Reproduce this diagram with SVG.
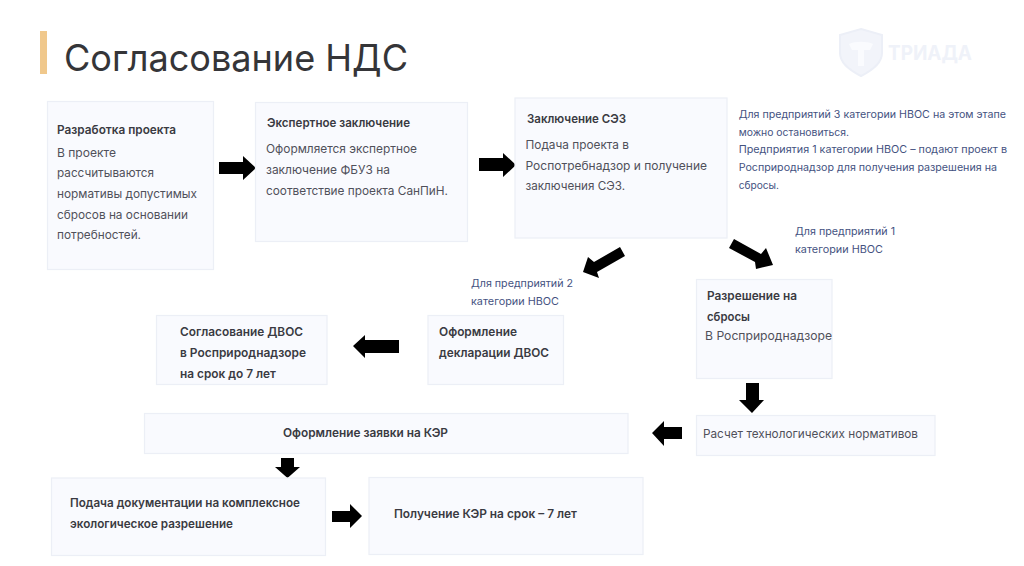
<svg xmlns="http://www.w3.org/2000/svg" width="1024" height="566" viewBox="0 0 1024 566">
<style>
text{font-family:"Inter","Noto Sans","DejaVu Sans",sans-serif;font-size:12px;font-weight:400;fill:#50505a}
.b{font-weight:600;fill:#3a3a42}
.n{font-size:10.5px;fill:#44527f}
.box{fill:#f9fafe;stroke:#eceff6;stroke-width:1.2}
.arr{fill:#000}
</style>
<rect width="1024" height="566" fill="#fff"/>
<g id="title">
<rect x="40" y="31" width="7" height="43" fill="#f0c88c"/>
<text x="64" y="71" textLength="344" lengthAdjust="spacingAndGlyphs" style="font-size:37px;fill:#353538">Согласование НДС</text>
</g>
<g id="logo">
<path d="M861 29 L882 35 V53 C882 63 871 71 861 76 C851 71 840 63 840 53 V35 Z" fill="#f2f4fa" stroke="#eceff7" stroke-width="2"/>
<path d="M849 44 C855 41 867 41 873 44 L870 50 H864 V66 H858 V50 H852 Z" fill="#fafbfe"/>
<text x="888" y="60" textLength="84" lengthAdjust="spacingAndGlyphs" style="font-size:20px;font-weight:700;fill:#eff2f9">ТРИАДА</text>
</g>
<g id="connectors" class="arr">
<polygon points="219,162 243,162 243,156 256,168 243,180 243,174 219,174"/>
<polygon points="479,158 503,158 503,153 516,165 503,177 503,171 479,171"/>
<polygon points="620,247 625,256 597,272 599,278 583,272 588,257 594,262"/>
<polygon points="734,239 761,254 766,248 773,265 756,269 755,262 729,248"/>
<polygon points="399,340 365,340 365,335 353,346 365,358 365,353 399,353"/>
<polygon points="746,383 759,383 759,400 764,400 752,413 739,400 746,400"/>
<polygon points="682,427 664,427 664,421 652,433 664,446 664,439 682,439"/>
<polygon points="281,458 294,458 294,467 300,467 287.500,478 275,467 281,467"/>
<polygon points="332,511 350,511 350,504 362,516 350,528 350,522 332,522"/>
</g>
<g id="node-razrabotka">
<rect class="box" x="47.500" y="101.500" width="166" height="168"/>
<text class="b" x="57" y="133.500" textLength="119" lengthAdjust="spacingAndGlyphs">Разработка проекта</text>
<text x="57" y="156.500" textLength="59" lengthAdjust="spacingAndGlyphs">В проекте</text>
<text x="57" y="177" textLength="97" lengthAdjust="spacingAndGlyphs">рассчитываются</text>
<text x="57" y="198" textLength="140" lengthAdjust="spacingAndGlyphs">нормативы допустимых</text>
<text x="57" y="218.500" textLength="131" lengthAdjust="spacingAndGlyphs">сбросов на основании</text>
<text x="57" y="239" textLength="84" lengthAdjust="spacingAndGlyphs">потребностей.</text>
</g>
<g id="node-expert">
<rect class="box" x="255.500" y="102.500" width="212" height="139"/>
<text class="b" x="267" y="127" textLength="143" lengthAdjust="spacingAndGlyphs">Экспертное заключение</text>
<text x="266" y="153" textLength="151" lengthAdjust="spacingAndGlyphs">Оформляется экспертное</text>
<text x="266" y="174" textLength="124" lengthAdjust="spacingAndGlyphs">заключение ФБУЗ на</text>
<text x="266" y="195" textLength="182" lengthAdjust="spacingAndGlyphs">соответствие проекта СанПиН.</text>
</g>
<g id="node-sez">
<rect class="box" x="515" y="98" width="212" height="140"/>
<text class="b" x="527" y="123" textLength="99" lengthAdjust="spacingAndGlyphs">Заключение СЭЗ</text>
<text x="525.500" y="148.500" textLength="103.500" lengthAdjust="spacingAndGlyphs">Подача проекта в</text>
<text x="525.500" y="170" textLength="181.500" lengthAdjust="spacingAndGlyphs">Роспотребнадзор и получение</text>
<text x="525.500" y="190" textLength="99.500" lengthAdjust="spacingAndGlyphs">заключения СЭЗ.</text>
</g>
<g id="note-cat3">
<text class="n" x="738.700" y="118" textLength="267.300" lengthAdjust="spacingAndGlyphs">Для предприятий 3 категории НВОС на этом этапе</text>
<text class="n" x="738.700" y="136" textLength="110.300" lengthAdjust="spacingAndGlyphs">можно остановиться.</text>
<text class="n" x="738.700" y="153" textLength="268.300" lengthAdjust="spacingAndGlyphs">Предприятия 1 категории НВОС – подают проект в</text>
<text class="n" x="738.700" y="171" textLength="258.300" lengthAdjust="spacingAndGlyphs">Росприроднадзор для получения разрешения на</text>
<text class="n" x="738.700" y="189" textLength="40.300" lengthAdjust="spacingAndGlyphs">сбросы.</text>
</g>
<g id="note-cat1">
<text class="n" x="795" y="235" textLength="100" lengthAdjust="spacingAndGlyphs">Для предприятий 1</text>
<text class="n" x="795" y="253" textLength="88" lengthAdjust="spacingAndGlyphs">категории НВОС</text>
</g>
<g id="note-cat2">
<text class="n" x="471" y="287" textLength="102" lengthAdjust="spacingAndGlyphs">Для предприятий 2</text>
<text class="n" x="471" y="305" textLength="88" lengthAdjust="spacingAndGlyphs">категории НВОС</text>
</g>
<g id="node-razreshenie">
<rect class="box" x="696.500" y="279.500" width="135.500" height="99"/>
<text class="b" x="707" y="300" textLength="90" lengthAdjust="spacingAndGlyphs">Разрешение на</text>
<text class="b" x="707" y="321" textLength="43" lengthAdjust="spacingAndGlyphs">сбросы</text>
<text x="705" y="340" textLength="127" lengthAdjust="spacingAndGlyphs">В Росприроднадзоре</text>
</g>
<g id="node-deklaratsiya">
<rect class="box" x="428" y="315.500" width="135.500" height="69"/>
<text class="b" x="439" y="336" textLength="78" lengthAdjust="spacingAndGlyphs">Оформление</text>
<text class="b" x="439" y="357" textLength="110" lengthAdjust="spacingAndGlyphs">декларации ДВОС</text>
</g>
<g id="node-dvos">
<rect class="box" x="156.500" y="315.500" width="170.500" height="69"/>
<text class="b" x="180" y="336" textLength="123" lengthAdjust="spacingAndGlyphs">Согласование ДВОС</text>
<text class="b" x="180" y="357" textLength="126" lengthAdjust="spacingAndGlyphs">в Росприроднадзоре</text>
<text class="b" x="180" y="378" textLength="96" lengthAdjust="spacingAndGlyphs">на срок до 7 лет</text>
</g>
<g id="node-raschet">
<rect class="box" x="696.500" y="415.500" width="238.500" height="40"/>
<text x="703" y="438" textLength="215" lengthAdjust="spacingAndGlyphs">Расчет технологических нормативов</text>
</g>
<g id="node-zayavka">
<rect class="box" x="144.500" y="413.500" width="483.500" height="40"/>
<text class="b" x="283" y="437" textLength="165" lengthAdjust="spacingAndGlyphs">Оформление заявки на КЭР</text>
</g>
<g id="node-podacha">
<rect class="box" x="51.500" y="478" width="274" height="77.500"/>
<text class="b" x="70" y="507" textLength="230" lengthAdjust="spacingAndGlyphs">Подача документации на комплексное</text>
<text class="b" x="70" y="528" textLength="163" lengthAdjust="spacingAndGlyphs">экологическое разрешение</text>
</g>
<g id="node-poluchenie">
<rect class="box" x="369" y="477.500" width="274" height="77"/>
<text class="b" x="394" y="518" textLength="183" lengthAdjust="spacingAndGlyphs">Получение КЭР на срок – 7 лет</text>
</g>
</svg>
